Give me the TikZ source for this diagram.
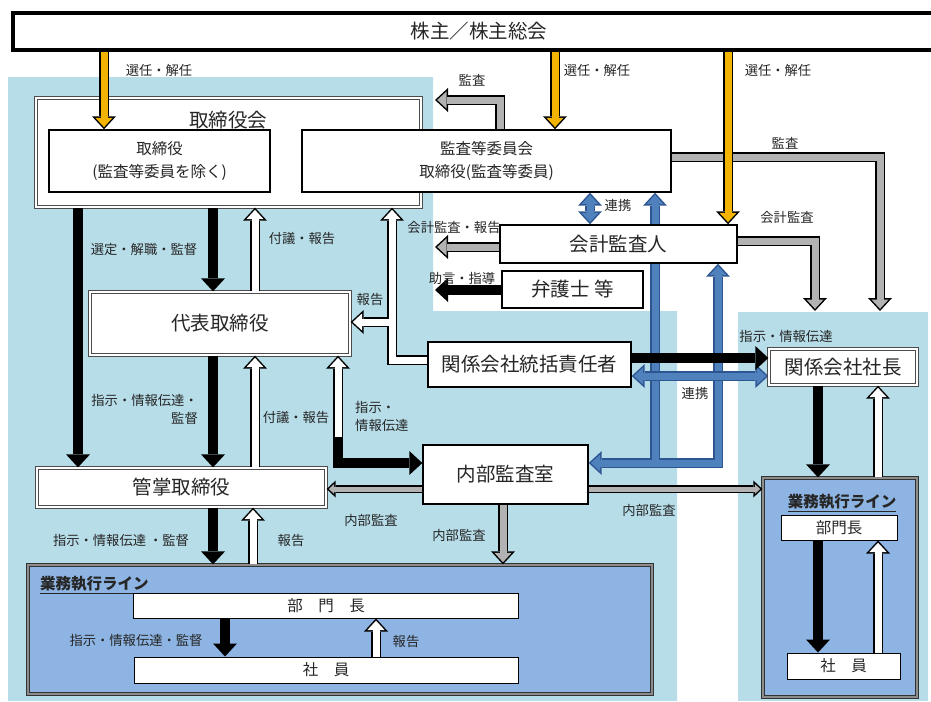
\documentclass[tikz,border=0pt]{standalone}
\usepackage{fontspec}
\setmainfont{Noto Sans CJK JP}
\usetikzlibrary{arrows.meta}
\definecolor{bgblue}{RGB}{183,221,233}
\definecolor{lnblue}{RGB}{141,180,226}
\definecolor{arblue}{RGB}{79,129,189}
\definecolor{aredge}{RGB}{45,85,145}
\definecolor{gold}{RGB}{242,180,0}
\definecolor{hatch}{RGB}{178,178,178}
\pgfdeclarelayer{fills}
\pgfdeclarelayer{links}
\pgfsetlayers{fills,links,main}

\begin{document}
\begin{tikzpicture}
[x=1pt,y=-1pt
,OTip/.tip={Triangle[length=13pt,width=24pt,line width=0pt]}
,ITip/.tip={Triangle[length=9.3pt,width=17.2pt,line width=0pt]}
,OTipS/.tip={Triangle[length=9pt,width=17pt,line width=0pt]}
,ITipS/.tip={Triangle[length=5.3pt,width=10pt,line width=0pt]}
,bx/.style={draw=black,line width=1.4pt,fill=white,inner sep=0pt,text=black!85}
,dbx/.style={bx,draw=black!70,double=white,double distance=1.6pt,line width=1.3pt}
,lbx/.style={draw=black!80,double=black!45,double distance=1.6pt,line width=1.3pt,fill=lnblue}
,big/.style={font=\fontsize{19.5}{23}\selectfont}
,mid/.style={font=\fontsize{15.5}{23}\selectfont,align=center}
,ttl/.style={font=\fontsize{15.5}{20}\selectfont\bfseries,text=black!85,inner sep=0pt}
,lb/.style={font=\fontsize{13.3}{18}\selectfont,text=black!85,inner sep=0pt}
,fat/.style 2 args={draw=#2,line width=7pt,line join=miter,shorten >=2.2pt,-ITip
  ,preaction={draw=#1,line width=10pt,shorten >=0pt,-OTip}}
,fats/.style 2 args={draw=#2,line width=5pt,line join=miter,shorten >=2.2pt,-ITipS
  ,preaction={draw=#1,line width=8pt,shorten >=0pt,-OTipS}}
,dfat/.style 2 args={draw=#2,line width=7pt,line join=miter,shorten >=2.2pt,shorten <=2.2pt,ITip-ITip
  ,preaction={draw=#1,line width=10pt,shorten >=0pt,shorten <=0pt,OTip-OTip}}
,wa/.style={fat={black}{white}}
,ga/.style={fat={black}{hatch}}
,gs/.style={fats={black}{hatch}}
,ya/.style={fat={black}{gold}}
,ba/.style={fat={aredge}{arblue}}
,bb/.style={dfat={aredge}{arblue}}
,ka/.style={draw=black,line width=10pt,line join=miter,-OTip}
]
\useasboundingbox (0,0) rectangle (931,701);
% background areas
\begin{pgfonlayer}{fills}
\fill[bgblue] (8,77) -- (433,77) -- (433,311) -- (677,311) -- (677,701) -- (8,701) -- cycle;
\fill[bgblue] (738,312) rectangle (928,701);
\end{pgfonlayer}

% boxes
\node[bx,line width=3.5pt,minimum width=932pt,minimum height=37pt,big] (sh) at (479,31.5) {株主／株主総会};
\node[dbx,minimum width=385pt,minimum height=109pt] (tb) at (228.5,152.5) {};
\node[big,text=black!85] (tbt) at (228,120) {取締役会};
\node[bx,mid,minimum width=221pt,minimum height=62pt] (tr) at (159.5,161) {取締役\\(監査等委員を除く)};
\node[bx,mid,minimum width=369pt,minimum height=62pt] (ki) at (486.5,161) {監査等委員会\\取締役(監査等委員)};
\node[bx,big,minimum width=237pt,minimum height=38pt] (kk) at (618.5,244) {会計監査人};
\node[bx,big,minimum width=141pt,minimum height=37pt] (bg) at (572.5,289.5) {弁護士 等};
\node[dbx,big,minimum width=260pt,minimum height=63pt] (dh) at (220,323.5) {代表取締役};
\node[bx,big,minimum width=203pt,minimum height=45pt] (tk) at (529.5,364.5) {関係会社統括責任者};
\node[dbx,big,minimum width=289pt,minimum height=39pt] (ks) at (181.5,487.5) {管掌取締役};
\node[bx,big,minimum width=165pt,minimum height=59pt] (nb) at (505.5,474.5) {内部監査室};
\node[dbx,big,minimum width=148pt,minimum height=36pt] (ss) at (843,367) {関係会社社長};
\node[lbx,minimum width=624pt,minimum height=129pt] (gl) at (340,629.5) {};
\node[ttl,anchor=west] (glt) at (40,585) {\underline{業務執行ライン}};
\node[bx,mid,line width=1pt,minimum width=385pt,minimum height=25pt] (bl) at (326,605.5) {部　門　長};
\node[bx,mid,line width=1pt,minimum width=384pt,minimum height=26pt] (sl) at (326,670) {社　員};
\node[lbx,minimum width=154pt,minimum height=219pt] (gr) at (840,587.5) {};
\node[ttl] (grt) at (842,503) {\underline{業務執行ライン}};
\node[bx,mid,line width=1pt,minimum width=116pt,minimum height=25pt] (br) at (839,527.5) {部門長};
\node[bx,mid,line width=1pt,minimum width=113pt,minimum height=26pt] (sr) at (843.5,666) {社　員};

% free ends and joints
\coordinate (c1) at (435,100);
\coordinate (c2) at (880,311);
\coordinate (c3) at (815,311);
\coordinate (c4) at (435,247);
\coordinate (c5) at (435,290);
\coordinate (j1) at (388.5,322);
\coordinate (j2) at (655,459.5);
\coordinate (j3) at (338,437);

% audit arrows
\draw[ga] (500,0 |- ki.north) |- (c1);
\draw[ga] (ki.east |- 0,157) -| (c2);
\draw[ga] (kk.east |- 0,241) -| (c3);
\draw[ga] (kk.west |- 0,247) -- (c4);
\draw[gs] (nb.west |- 0,489) -- (ks.east |- 0,489);
\draw[gs] (nb.east |- 0,489) -- (gr.west |- 0,489);
\draw[ga] (503,0 |- nb.south) -- (503,0 |- gl.north);

% cooperation, under the boxes
\begin{pgfonlayer}{links}
\draw[bb] (nb.east |- 0,463) -| (718,0 |- kk.south);
\draw[ba] (j2) -- (655,0 |- ki.south);
\draw[bb] (590,0 |- ki.south) -- (590,0 |- kk.north);
\draw[bb] (tk.east |- 0,376) -- (ss.west |- 0,376);
\end{pgfonlayer}

% instructions
\draw[ka] (bg.west |- 0,290) -- (c5);
\draw[ka] (tk.east |- 0,358) -- (ss.west |- 0,358);
\draw[ka] (78,0 |- tb.south) -- (78,0 |- ks.north);
\draw[ka] (213,0 |- tb.south) -- (213,0 |- dh.north);
\draw[ka] (213,0 |- dh.south) -- (213,0 |- ks.north);
\draw[ka] (j3) |- (nb.west |- 0,463);
\draw[ka] (213,0 |- ks.south) -- (213,0 |- gl.north);
\draw[ka] (225,0 |- bl.south) -- (225,0 |- sl.north);
\draw[ka] (818,0 |- ss.south) -- (818,0 |- gr.north);
\draw[ka] (818,0 |- br.south) -- (818,0 |- sr.north);

% reports
\draw[wa] (255,0 |- dh.north) -- (255,0 |- tb.south);
\draw[wa] (tk.west |- 0,360) -| (392,0 |- tb.south);
\draw[wa] (j1) -- (dh.east |- 0,322);
\draw[wa] (255,0 |- ks.north) -- (255,0 |- dh.south);
\draw[wa] (j3) -- (338,0 |- dh.south);
\draw[wa] (253,0 |- gl.north) -- (253,0 |- ks.south);
\draw[wa] (376,0 |- sl.north) -- (376,0 |- bl.south);
\draw[wa] (878,0 |- gr.north) -- (878,0 |- ss.south);
\draw[wa] (878,0 |- sr.north) -- (878,0 |- br.south);

% elections
\draw[ya] (104,0 |- sh.south) -- (104,0 |- tr.north);
\draw[ya] (555,0 |- sh.south) -- (555,0 |- ki.north);
\draw[ya] (728,0 |- sh.south) -- (728,0 |- kk.north);

% labels
\node[lb] (l1) at (159,70) {選任・解任};
\node[lb] (l2) at (597,70) {選任・解任};
\node[lb] (l3) at (778,70) {選任・解任};
\node[lb] (l4) at (472,80) {監査};
\node[lb] (l5) at (785,143) {監査};
\node[lb] (l6) at (787,217) {会計監査};
\node[lb] (l7) at (618,205) {連携};
\node[lb] (l8) at (454,228) {会計監査・報告};
\node[lb] (l9) at (462,278) {助言・指導};
\node[lb] (l10) at (144,249) {選定・解職・監督};
\node[lb] (l11) at (302,238) {付議・報告};
\node[lb] (l12) at (370,300) {報告};
\node[lb] (l13) at (786,336) {指示・情報伝達};
\node[lb] (l14) at (695,393) {連携};
\node[lb,align=right,anchor=east] (l15) at (198,409) {指示・情報伝達・\\監督};
\node[lb] (l16) at (296,417) {付議・報告};
\node[lb,align=left,anchor=west] (l17) at (355,416) {指示・\\情報伝達};
\node[lb] (l18) at (371,520) {内部監査};
\node[lb] (l19) at (459,535) {内部監査};
\node[lb] (l20) at (649,510) {内部監査};
\node[lb] (l21) at (121,540) {指示・情報伝達 ・監督};
\node[lb] (l22) at (291,540) {報告};
\node[lb] (l23) at (136,640) {指示・情報伝達・監督};
\node[lb] (l24) at (406,641) {報告};
\end{tikzpicture}
\end{document}
